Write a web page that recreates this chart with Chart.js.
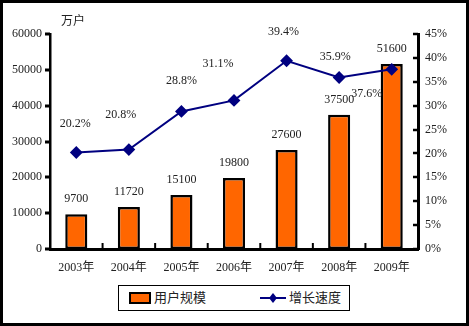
<!DOCTYPE html>
<html>
<head>
<meta charset="utf-8">
<script src="https://cdn.jsdelivr.net/npm/chart.js@4.4.0/dist/chart.umd.min.js"></script>
<style>
  body { margin: 0; background: #fff; }
  #frame { position: relative; width: 469px; height: 326px; border: 3px solid #000; box-sizing: border-box; background: #fff; }
  #wrap { position: absolute; left: 0; top: 0; width: 463px; height: 282px; }
  #legend { position: absolute; left: 115px; top: 282px; width: 232px; height: 26px; border: 1px solid #000; box-sizing: border-box;
            font: 13px 'Liberation Serif', 'Noto Sans CJK SC'; color: #222; }
  #legend .item { position: absolute; top: 0; height: 24px; line-height: 24px; white-space: nowrap; }
  .swatch { display: inline-block; width: 18px; height: 8px; background: #FF6600; border: 2px solid #000; vertical-align: middle; margin-right: 3px; position: relative; top: -1px; }
  .lineSym { display: inline-block; width: 26px; height: 10px; vertical-align: middle; margin-right: 3px; position: relative; top: -1px; }
</style>
</head>
<body>
<div id="frame">
  <div id="wrap"><canvas id="userChart"></canvas></div>
  <div id="legend">
    <span class="item" style="left:10px"><span class="swatch"></span>用户规模</span>
    <span class="item" style="left:141px"><svg class="lineSym" viewBox="0 0 26 10"><line x1="0" y1="5" x2="26" y2="5" stroke="#000080" stroke-width="2"/><polygon points="13,0 17,5 13,10 9,5" fill="#000080"/></svg>增长速度</span>
  </div>
</div>
<script>
// 用户规模（万户）与增长速度
const years = ['2003年', '2004年', '2005年', '2006年', '2007年', '2008年', '2009年'];
const users = [9700, 11720, 15100, 19800, 27600, 37500, 51600];
const growth = [20.2, 20.8, 28.8, 31.1, 39.4, 35.9, 37.6];

// 百分比标签相对数据点的偏移
const growthLabelOffset = [[-1, -29], [-8, -35], [0, -31], [-16, -37], [-3, -29], [-4, -21], [-25, 24]];

const FONT = "'Liberation Serif', 'Noto Sans CJK SC'";
const FSIZE = 12;

const decorPlugin = {
  id: 'decor',
  afterDatasetsDraw(chart) {
    const ctx = chart.ctx;
    const area = chart.chartArea;
    const x = chart.scales.x, y = chart.scales.y, y1 = chart.scales.y1;
    ctx.save();
    ctx.strokeStyle = '#000';

    // 左轴刻度（朝外）
    ctx.lineWidth = 3;
    y.ticks.forEach(t => {
      const py = Math.round(y.getPixelForValue(t.value));
      ctx.beginPath(); ctx.moveTo(area.left - 5, py); ctx.lineTo(area.left, py); ctx.stroke();
    });
    // 右轴刻度（朝内）
    ctx.lineWidth = 2.5;
    y1.ticks.forEach(t => {
      const py = Math.round(y1.getPixelForValue(t.value));
      ctx.beginPath(); ctx.moveTo(area.right - 5, py); ctx.lineTo(area.right, py); ctx.stroke();
    });
    // 横轴分类间刻度
    ctx.lineWidth = 2;
    for (let i = 1; i < years.length; i++) {
      const px = (x.getPixelForValue(i - 1) + x.getPixelForValue(i)) / 2;
      ctx.beginPath(); ctx.moveTo(px, area.bottom); ctx.lineTo(px, area.bottom - 6); ctx.stroke();
    }

    ctx.fillStyle = '#222';
    ctx.font = FSIZE + 'px ' + FONT;
    ctx.textAlign = 'center';
    ctx.textBaseline = 'middle';

    // 柱顶数值
    chart.getDatasetMeta(1).data.forEach((bar, i) => {
      ctx.fillText(String(users[i]), bar.x, bar.y - 15);
    });
    // 增长率
    chart.getDatasetMeta(0).data.forEach((pt, i) => {
      const o = growthLabelOffset[i];
      ctx.fillText(growth[i].toFixed(1) + '%', pt.x + o[0], pt.y + o[1]);
    });

    // 单位
    ctx.textAlign = 'left';
    ctx.fillText('万户', area.left + 11, area.top - 12);
    ctx.restore();
  }
};

new Chart(document.getElementById('userChart'), {
  data: {
    labels: years,
    datasets: [
      {
        type: 'line',
        label: '增长速度',
        data: growth,
        yAxisID: 'y1',
        borderColor: '#000080',
        backgroundColor: '#000080',
        borderWidth: 2,
        tension: 0,
        pointStyle: 'rectRot',
        pointRadius: 5,
        pointHoverRadius: 5,
        order: 0
      },
      {
        type: 'bar',
        label: '用户规模',
        data: users,
        yAxisID: 'y',
        backgroundColor: '#FF6600',
        borderColor: '#000',
        borderWidth: 2.5,
        borderSkipped: false,
        barPercentage: 0.6,
        categoryPercentage: 0.7,
        order: 1
      }
    ]
  },
  options: {
    responsive: true,
    maintainAspectRatio: false,
    animation: false,
    layout: { padding: { top: 31 } },
    plugins: {
      legend: { display: false },
      tooltip: { enabled: false }
    },
    scales: {
      x: {
        grid: { display: false, drawTicks: false },
        border: { color: '#000', width: 3 },
        ticks: { color: '#222', font: { family: FONT, size: FSIZE }, padding: 12, maxRotation: 0 },
        afterFit(s) { s.height = 36; }
      },
      y: {
        position: 'left',
        min: 0, max: 60000,
        grid: { display: false, drawTicks: false },
        border: { color: '#000', width: 2.5 },
        ticks: { stepSize: 10000, color: '#222', font: { family: FONT, size: FSIZE }, padding: 8, callback: v => String(v) },
        afterFit(s) { s.width = 47; }
      },
      y1: {
        position: 'right',
        min: 0, max: 45,
        grid: { display: false, drawTicks: false },
        border: { color: '#000', width: 3 },
        ticks: { stepSize: 5, color: '#222', font: { family: FONT, size: FSIZE }, padding: 7, callback: v => v + '%' },
        afterFit(s) { s.width = 48; }
      }
    }
  },
  plugins: [decorPlugin]
});
</script>
</body>
</html>
